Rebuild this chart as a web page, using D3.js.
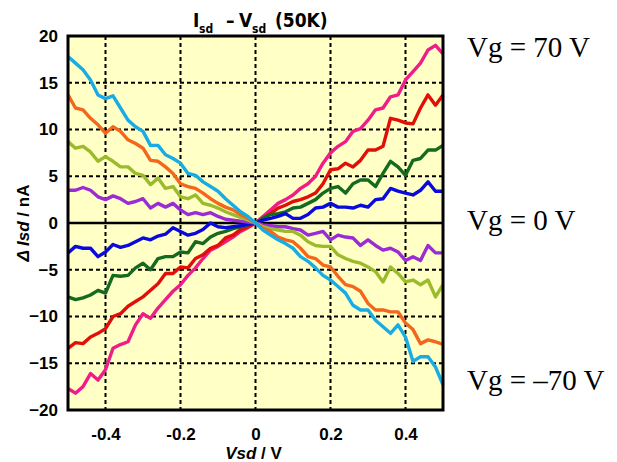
<!DOCTYPE html>
<html><head><meta charset="utf-8">
<script src="https://cdn.jsdelivr.net/npm/d3@7/dist/d3.min.js"></script>
<style>body{margin:0;background:#fff}svg{display:block}</style>
</head><body>
<svg id="c" width="617" height="462"></svg>
<script>
const vsd = [-0.5,-0.48,-0.46,-0.44,-0.42,-0.4,-0.38,-0.36,-0.34,-0.32,-0.3,-0.28,-0.26,-0.24,-0.22,-0.2,-0.18,-0.16,-0.14,-0.12,-0.1,-0.08,-0.06,-0.04,-0.02,0,
 0.02,0.04,0.06,0.08,0.1,0.12,0.14,0.16,0.18,0.2,0.22,0.24,0.26,0.28,0.3,0.32,0.34,0.36,0.38,0.4,0.42,0.44,0.46,0.48,0.5];

const vg70 = [-17.7,-18.2,-17.5,-16.1,-16.8,-15.7,-13.4,-13.0,-12.7,-10.9,-9.7,-10.2,-9.1,-8.2,-7.3,-6.6,-5.6,-4.8,-3.8,-2.9,-2.5,-2.0,-1.5,-0.9,-0.5,0,
 0.7,1.4,2.1,2.5,3.0,3.7,4.2,5.0,6.4,7.5,8.2,8.7,9.8,10.1,11.0,12.1,12.3,13.5,13.7,15.3,16.2,17.1,18.5,19.0,18.1];
const vg50 = [-13.4,-12.8,-12.9,-12.2,-11.8,-11.3,-10.0,-9.7,-8.9,-8.4,-7.9,-7.2,-6.5,-5.4,-5.4,-4.7,-4.8,-3.8,-3.4,-2.7,-2.4,-1.6,-1.3,-0.7,-0.4,0,
 0.5,1.0,1.6,1.9,2.3,2.5,2.8,3.2,4.2,5.7,5.8,6.4,6.0,6.7,7.8,7.8,8.2,11.2,11.0,10.7,10.6,12.3,13.7,12.6,13.7];
const vg30 = [-7.9,-8.2,-8.0,-7.7,-7.2,-7.5,-5.6,-5.7,-5.6,-4.8,-4.3,-5.0,-3.8,-3.6,-3.6,-3.1,-3.2,-2.0,-2.2,-1.5,-1.1,-0.9,-0.6,-0.4,-0.2,0,
 0.5,0.9,1.0,1.2,1.6,1.7,2.1,2.5,3.2,3.7,3.9,3.2,4.2,4.6,4.6,3.9,5.3,6.6,6.0,5.1,6.7,6.9,7.8,7.8,8.3];
const vg10 = [-3.2,-2.5,-2.7,-2.7,-3.6,-3.1,-2.3,-2.6,-2.4,-2.0,-1.6,-1.8,-1.4,-1.2,-0.5,-0.9,-1.3,-1.1,-0.7,0,-0.4,-0.5,-0.4,-0.3,-0.15,0,
 0.3,0.5,0.7,1.0,0.5,0.5,0.9,1.6,1.7,2.1,1.7,1.7,1.6,1.9,1.7,2.5,2.6,3.7,3.4,3.2,3.0,3.5,4.4,3.4,3.4];
const vgm10 = [3.5,3.5,3.8,3.5,2.8,2.5,2.9,2.6,2.1,2.3,2.6,1.6,2.1,1.7,2.1,1.4,0.9,1.1,0.9,1.1,0.7,0.4,0.3,0.2,0.1,0,
 -0.2,-0.3,-0.4,-0.4,-0.6,-0.75,-1.3,-1.1,-0.9,-1.8,-1.3,-1.5,-1.6,-2.4,-1.8,-2.4,-2.9,-2.7,-3.1,-4.0,-3.6,-4.0,-2.4,-3.2,-3.2];
const vgm30 = [8.7,8.0,8.2,7.6,6.6,7.1,6.6,6.0,6.0,5.3,5.1,4.1,4.8,3.7,3.9,2.8,2.6,3.0,2.1,1.9,1.6,1.2,0.9,0.6,0.3,0,
 -0.4,-0.6,-0.75,-0.9,-0.9,-1.3,-2.0,-2.4,-2.5,-2.5,-3.4,-3.8,-4.1,-4.3,-4.7,-5.2,-6.3,-4.7,-5.4,-6.3,-6.1,-6.6,-6.1,-7.9,-6.6];
const vgm50 = [13.7,12.3,12.1,11.2,10.5,9.6,10.3,9.8,8.9,8.5,8.0,6.7,6.6,6.0,5.3,4.2,3.9,3.7,3.2,2.6,2.1,1.7,1.4,0.9,0.5,0,
 -0.6,-0.9,-1.5,-1.8,-2.0,-2.7,-3.6,-3.8,-4.5,-4.7,-5.7,-6.6,-6.8,-7.3,-8.6,-9.3,-9.3,-9.5,-9.5,-10.7,-11.4,-12.9,-12.5,-12.7,-12.97];
const vgm70 = [17.8,17.1,16.4,15.3,13.7,13.3,13.6,12.3,11.0,10.3,9.8,8.3,8.3,7.3,6.9,6.4,5.3,5.1,4.4,3.9,3.4,2.6,1.9,1.2,0.7,0,
 -0.75,-1.3,-1.8,-2.2,-2.7,-3.6,-4.1,-4.8,-5.6,-6.1,-6.8,-7.5,-8.8,-9.3,-9.3,-10.4,-11.1,-11.8,-10.9,-12.2,-14.8,-14.3,-14.3,-15.4,-17.3];

const seriesNames = ["70","50","30","10","-10","-30","-50","-70"];
const seriesValues = [vg70, vg50, vg30, vg10, vgm10, vgm30, vgm50, vgm70];
const seriesColors = ["#F01C87","#E01008","#146A1E","#0A0ADC","#9B2BD4","#9BBB2C","#F4661B","#18ACE6"];

const xTicks = [-0.4,-0.2,0,0.2,0.4];
const xTickLabels = ["-0.4","-0.2","0","0.2","0.4"];
const yTicks = [20,15,10,5,0,-5,-10,-15,-20];
const yGrid = [15,10,5,-5,-10,-15];
const sideLabels = ["Vg = 70 V","Vg = 0 V","Vg = \u201370 V"];

const L=68, T=36, W=375, H=374;
const svg = d3.select("#c");
const x = d3.scaleLinear().domain([-0.5,0.5]).range([L, L+W]);
const y = d3.scaleLinear().domain([-20,20]).range([T+H, T]);

svg.append("rect").attr("x",L).attr("y",T).attr("width",W).attr("height",H).attr("fill","#FFFFC6");

const g = svg.append("g");
g.selectAll("line.vg").data(xTicks).join("line")
 .attr("x1",d=>x(d)).attr("x2",d=>x(d)).attr("y1",T).attr("y2",T+H)
 .attr("stroke","#000").attr("stroke-width",2).attr("stroke-dasharray","4,3");
g.selectAll("line.hg").data(yGrid).join("line").attr("class","hg")
 .attr("y1",d=>y(d)).attr("y2",d=>y(d)).attr("x1",L).attr("x2",L+W)
 .attr("stroke","#000").attr("stroke-width",2).attr("stroke-dasharray","4,3");
svg.append("line").attr("x1",L).attr("x2",L+W).attr("y1",y(0)).attr("y2",y(0))
 .attr("stroke","#000").attr("stroke-width",2.5);

const line = d3.line().x((d,i)=>x(vsd[i])).y(d=>y(d));
svg.selectAll("path.s").data(seriesValues).join("path")
 .attr("d", d=>line(d)).attr("fill","none")
 .attr("stroke",(d,i)=>seriesColors[i]).attr("stroke-width",3.4).attr("stroke-linejoin","round");

svg.append("rect").attr("x",L).attr("y",T).attr("width",W).attr("height",H)
 .attr("fill","none").attr("stroke","#000").attr("stroke-width",3);

const font = "'Liberation Sans', Arial, sans-serif";
const ya = svg.append("g").attr("transform",`translate(${L},0)`)
 .call(d3.axisLeft(y).tickValues(yTicks).tickSize(0).tickPadding(10).tickFormat(d3.format("d")));
ya.select(".domain").remove();
ya.selectAll("text").attr("font-family",font).attr("font-weight","bold").attr("font-size",17).attr("fill","#000");

const xa = svg.append("g").attr("transform",`translate(0,${T+H})`)
 .call(d3.axisBottom(x).tickValues(xTicks).tickSize(0).tickPadding(18).tickFormat((d,i)=>xTickLabels[i]));
xa.select(".domain").remove();
xa.selectAll("text").attr("font-family",font).attr("font-weight","bold").attr("font-size",17).attr("fill","#000");

const xt = svg.append("text").attr("x",x(0)-2).attr("y",459).attr("text-anchor","middle")
 .attr("font-family",font).attr("font-weight","bold").attr("font-size",17);
xt.append("tspan").attr("font-style","italic").text("Vsd");
xt.append("tspan").text(" / V");

const yt = svg.append("text").attr("transform",`translate(29,${y(0)}) rotate(-90)`).attr("text-anchor","middle")
 .attr("font-family",font).attr("font-weight","bold").attr("font-size",17);
yt.append("tspan").attr("font-style","italic").text("\u0394 Isd");
yt.append("tspan").text(" / nA");

const tf = "'Liberation Sans Narrow', 'DejaVu Sans Condensed', sans-serif";
const tt = svg.append("text").attr("y",27).attr("font-family",tf).attr("font-weight","bold").attr("font-size",19).attr("fill","#000");
tt.append("tspan").attr("x",193).text("I");
tt.append("tspan").attr("x",199).attr("dy",6).attr("font-size",12).text("sd");
tt.append("tspan").attr("x",226).attr("dy",-6).text("\u2013");
tt.append("tspan").attr("x",239).text("V");
tt.append("tspan").attr("x",252).attr("dy",6).attr("font-size",12).text("sd");
tt.append("tspan").attr("x",275).attr("dy",-6).text("(50K)");

svg.selectAll("text.side").data(sideLabels).join("text").attr("class","side")
 .attr("x",467).attr("y",(d,i)=>[57,230,390][i])
 .attr("font-family","'Liberation Serif', 'Times New Roman', serif").attr("font-size",29).attr("fill","#000")
 .text(d=>d);
</script>
</body></html>
